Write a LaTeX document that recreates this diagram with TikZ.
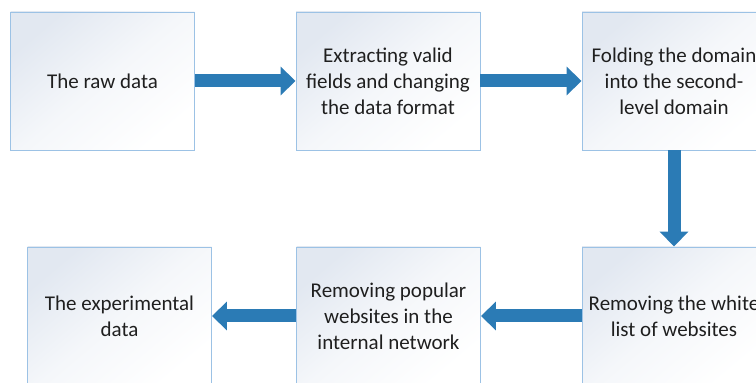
\documentclass[tikz,border=0pt]{standalone}
\usepackage{fontspec}
\setmainfont{Carlito}
\usetikzlibrary{arrows.meta,shadings}
\definecolor{boxline}{HTML}{9CC2E5}
\definecolor{boxshade}{HTML}{E2E8F1}
\definecolor{flowblue}{HTML}{2B7BB5}
\tikzset{stepbox/.style={draw=boxline, line width=0.9pt, top color=boxshade, bottom color=white, middle color=boxshade!35, shading angle=40, minimum width=184pt, minimum height=138pt, align=center, inner sep=0pt, font=\fontsize{21}{26}\selectfont, text=black!88},
  flow/.style={draw=flowblue, line width=13pt, -{Triangle[length=15pt,width=28pt]}}}
\begin{document}
\begin{tikzpicture}[x=1pt,y=1pt]
  \useasboundingbox (0,0) rectangle (756,383);
  \clip (0,0) rectangle (756,383);
   \node[stepbox] (raw) at (102.5,302) {The raw data};
   \node[stepbox] (extract) at (388,302) {Extracting valid\\fields and changing\\the data format};
   \node[stepbox] (fold) at (674,302) {Folding the domain\\into the second-\\level domain};
   \node[stepbox] (white) at (674,67) {Removing the white\\list of websites};
   \node[stepbox] (popular) at (388.5,67) {Removing popular\\websites in the\\internal network};
   \node[stepbox] (result) at (119.5,67) {The experimental\\data};
   \draw[flow] (raw) -- (extract);
   \draw[flow] (extract) -- (fold);
   \draw[flow] (fold) -- (white);
   \draw[flow] (white) -- (popular);
   \draw[flow] (popular) -- (result);
 \end{tikzpicture}
\end{document}
